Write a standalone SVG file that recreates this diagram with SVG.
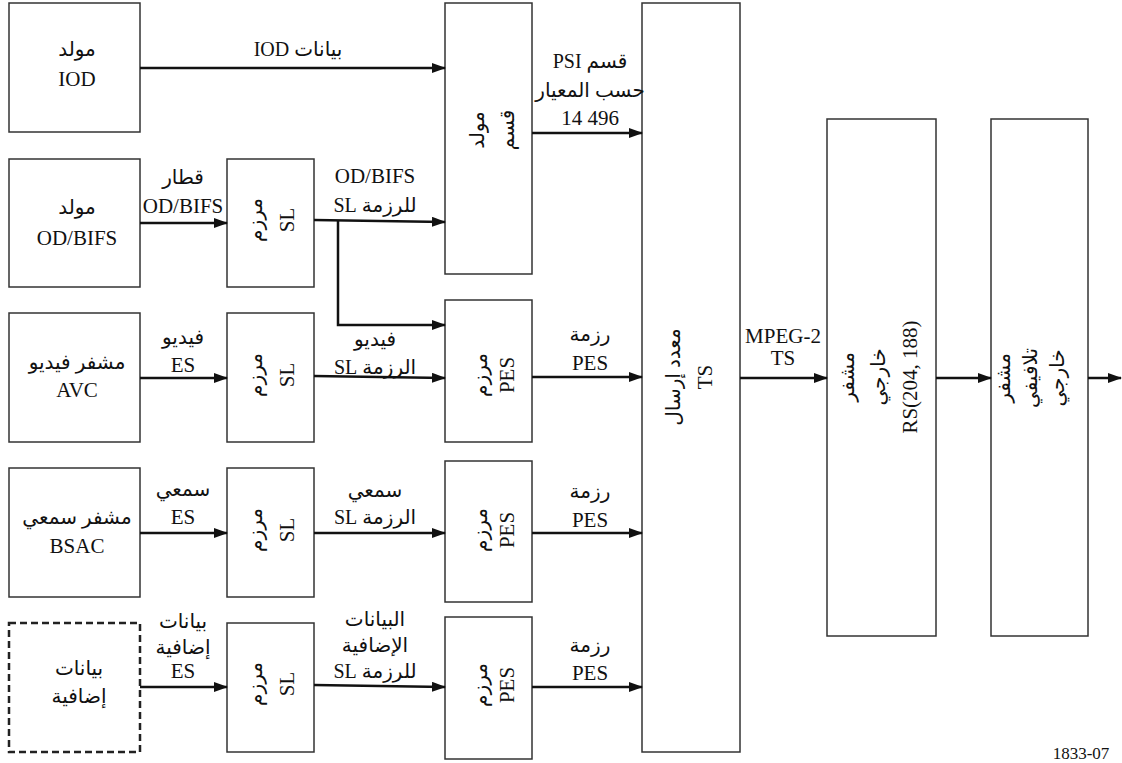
<svg xmlns="http://www.w3.org/2000/svg" width="1122" height="763" viewBox="0 0 1122 763">
<style>
.box{fill:#fff;stroke:#333;stroke-width:1.5}
.dash{fill:#fff;stroke:#222;stroke-width:2.5;stroke-dasharray:7 4}
.t{font-family:"Liberation Serif","Times New Roman","DejaVu Serif","DejaVu Sans",serif;font-size:21px;fill:#111;text-anchor:middle}
.ar{direction:rtl;font-size:20px}
.c{fill:none;stroke:#111;stroke-width:2.5}
.cap{font-family:"Liberation Serif","Times New Roman","DejaVu Serif",serif;font-size:17px;fill:#111;text-anchor:middle}
</style>
<defs>
<marker id="ah" markerUnits="userSpaceOnUse" markerWidth="14" markerHeight="10" refX="13" refY="5" orient="auto">
<path d="M0,0 L14,5 L0,10 z" fill="#111"/>
</marker>
</defs>

<g id="iod-gen">
<rect class="box" x="9" y="3" width="131" height="129"/>
<text class="t ar" x="77" y="56">مولد</text>
<text class="t" x="77" y="86">IOD</text>
</g>

<g id="odbifs-gen">
<rect class="box" x="9" y="159" width="131" height="128"/>
<text class="t ar" x="77" y="214">مولد</text>
<text class="t" x="77" y="245">OD/BIFS</text>
</g>

<g id="avc-enc">
<rect class="box" x="9" y="313" width="131" height="129"/>
<text class="t ar" x="77" y="369">مشفر فيديو</text>
<text class="t" x="77" y="397">AVC</text>
</g>

<g id="bsac-enc">
<rect class="box" x="9" y="468" width="131" height="129"/>
<text class="t ar" x="77" y="524">مشفر سمعي</text>
<text class="t" x="77" y="553">BSAC</text>
</g>

<g id="extra-data">
<rect class="dash" x="9" y="623" width="131" height="129"/>
<text class="t ar" x="79" y="675">بيانات</text>
<text class="t ar" x="79" y="703">إضافية</text>
</g>

<g id="sl1">
<rect class="box" x="227" y="159" width="87" height="128"/>
<g transform="translate(270,220) rotate(-90)">
<text class="t ar" x="0" y="-8">مرزم</text>
<text class="t" x="0" y="24">SL</text>
</g>
</g>

<g id="sl2">
<rect class="box" x="227" y="313" width="87" height="129"/>
<g transform="translate(270,375) rotate(-90)">
<text class="t ar" x="0" y="-8">مرزم</text>
<text class="t" x="0" y="24">SL</text>
</g>
</g>

<g id="sl3">
<rect class="box" x="227" y="468" width="87" height="129"/>
<g transform="translate(270,530) rotate(-90)">
<text class="t ar" x="0" y="-8">مرزم</text>
<text class="t" x="0" y="24">SL</text>
</g>
</g>

<g id="sl4">
<rect class="box" x="227" y="623" width="87" height="129"/>
<g transform="translate(270,684) rotate(-90)">
<text class="t ar" x="0" y="-8">مرزم</text>
<text class="t" x="0" y="24">SL</text>
</g>
</g>

<g id="psi-gen">
<rect class="box" x="445" y="3" width="87" height="271"/>
<g transform="translate(495,130) rotate(-90)">
<text class="t ar" x="0" y="-11">مولد</text>
<text class="t ar" x="0" y="19">قسم</text>
</g>
</g>

<g id="pes1">
<rect class="box" x="445" y="300" width="87" height="142"/>
<g transform="translate(488,375) rotate(-90)">
<text class="t ar" x="0" y="-1">مرزم</text>
<text class="t" x="0" y="26">PES</text>
</g>
</g>

<g id="pes2">
<rect class="box" x="445" y="461" width="87" height="141"/>
<g transform="translate(488,530) rotate(-90)">
<text class="t ar" x="0" y="-1">مرزم</text>
<text class="t" x="0" y="26">PES</text>
</g>
</g>

<g id="pes3">
<rect class="box" x="445" y="617" width="87" height="142"/>
<g transform="translate(488,685) rotate(-90)">
<text class="t ar" x="0" y="-1">مرزم</text>
<text class="t" x="0" y="26">PES</text>
</g>
</g>

<g id="ts-mux">
<rect class="box" x="642" y="3" width="98" height="749"/>
<g transform="translate(690,377) rotate(-90)">
<text class="t ar" x="0" y="-10">معدد إرسال</text>
<text class="t" x="0" y="22">TS</text>
</g>
</g>

<g id="rs-enc">
<rect class="box" x="827" y="119" width="109" height="517"/>
<g transform="translate(880,377) rotate(-90)">
<text class="t ar" x="0" y="-26">مشفر</text>
<text class="t ar" x="0" y="5">خارجي</text>
<text class="t" x="0" y="37">RS(204, 188)</text>
</g>
</g>

<g id="conv-enc">
<rect class="box" x="991" y="119" width="97" height="517"/>
<g transform="translate(1035,378) rotate(-90)">
<text class="t ar" x="0" y="-25">مشفر</text>
<text class="t ar" x="0" y="2">تلافيفي</text>
<text class="t ar" x="0" y="29">خارجي</text>
</g>
</g>

<g id="connectors">
<path class="c" d="M140,68 L445,68" marker-end="url(#ah)"/>
<path class="c" d="M140,223 L227,223" marker-end="url(#ah)"/>
<path class="c" d="M314,220 L445,222" marker-end="url(#ah)"/>
<path class="c" d="M338,220 L338,325 L445,325" marker-end="url(#ah)"/>
<path class="c" d="M532,133 L642,133" marker-end="url(#ah)"/>
<path class="c" d="M140,378 L227,378" marker-end="url(#ah)"/>
<path class="c" d="M314,376 L445,378" marker-end="url(#ah)"/>
<path class="c" d="M532,377 L642,377" marker-end="url(#ah)"/>
<path class="c" d="M140,533 L227,533" marker-end="url(#ah)"/>
<path class="c" d="M314,533 L445,533" marker-end="url(#ah)"/>
<path class="c" d="M532,533 L642,533" marker-end="url(#ah)"/>
<path class="c" d="M140,687 L227,687" marker-end="url(#ah)"/>
<path class="c" d="M314,685 L445,687" marker-end="url(#ah)"/>
<path class="c" d="M532,687 L642,687" marker-end="url(#ah)"/>
<path class="c" d="M740,378 L827,378" marker-end="url(#ah)"/>
<path class="c" d="M936,378 L991,378" marker-end="url(#ah)"/>
<path class="c" d="M1088,378 L1121,378" marker-end="url(#ah)"/>
</g>

<g id="labels">
<text class="t ar" x="298" y="56">بيانات IOD</text>
<text class="t ar" x="183" y="184">قطار</text>
<text class="t" x="183" y="213">OD/BIFS</text>
<text class="t" x="375" y="183">OD/BIFS</text>
<text class="t ar" x="375" y="212">للرزمة SL</text>
<text class="t ar" x="590" y="68">قسم PSI</text>
<text class="t ar" x="590" y="97">حسب المعيار</text>
<text class="t" x="590" y="125">14 496</text>
<text class="t ar" x="183" y="344">فيديو</text>
<text class="t" x="183" y="372">ES</text>
<text class="t ar" x="375" y="346">فيديو</text>
<text class="t ar" x="375" y="374">الرزمة SL</text>
<text class="t ar" x="590" y="341">رزمة</text>
<text class="t" x="590" y="370">PES</text>
<text class="t" x="783" y="343">MPEG-2</text>
<text class="t" x="783" y="365">TS</text>
<text class="t ar" x="183" y="496">سمعي</text>
<text class="t" x="183" y="524">ES</text>
<text class="t ar" x="375" y="497">سمعي</text>
<text class="t ar" x="375" y="524">الرزمة SL</text>
<text class="t ar" x="590" y="498">رزمة</text>
<text class="t" x="590" y="527">PES</text>
<text class="t ar" x="183" y="628">بيانات</text>
<text class="t ar" x="183" y="654">إضافية</text>
<text class="t" x="183" y="678">ES</text>
<text class="t ar" x="375" y="626">البيانات</text>
<text class="t ar" x="375" y="652">الإضافية</text>
<text class="t ar" x="375" y="678">للرزمة SL</text>
<text class="t ar" x="590" y="652">رزمة</text>
<text class="t" x="590" y="680">PES</text>
<text class="cap" x="1081" y="759">1833-07</text>
</g>
</svg>
